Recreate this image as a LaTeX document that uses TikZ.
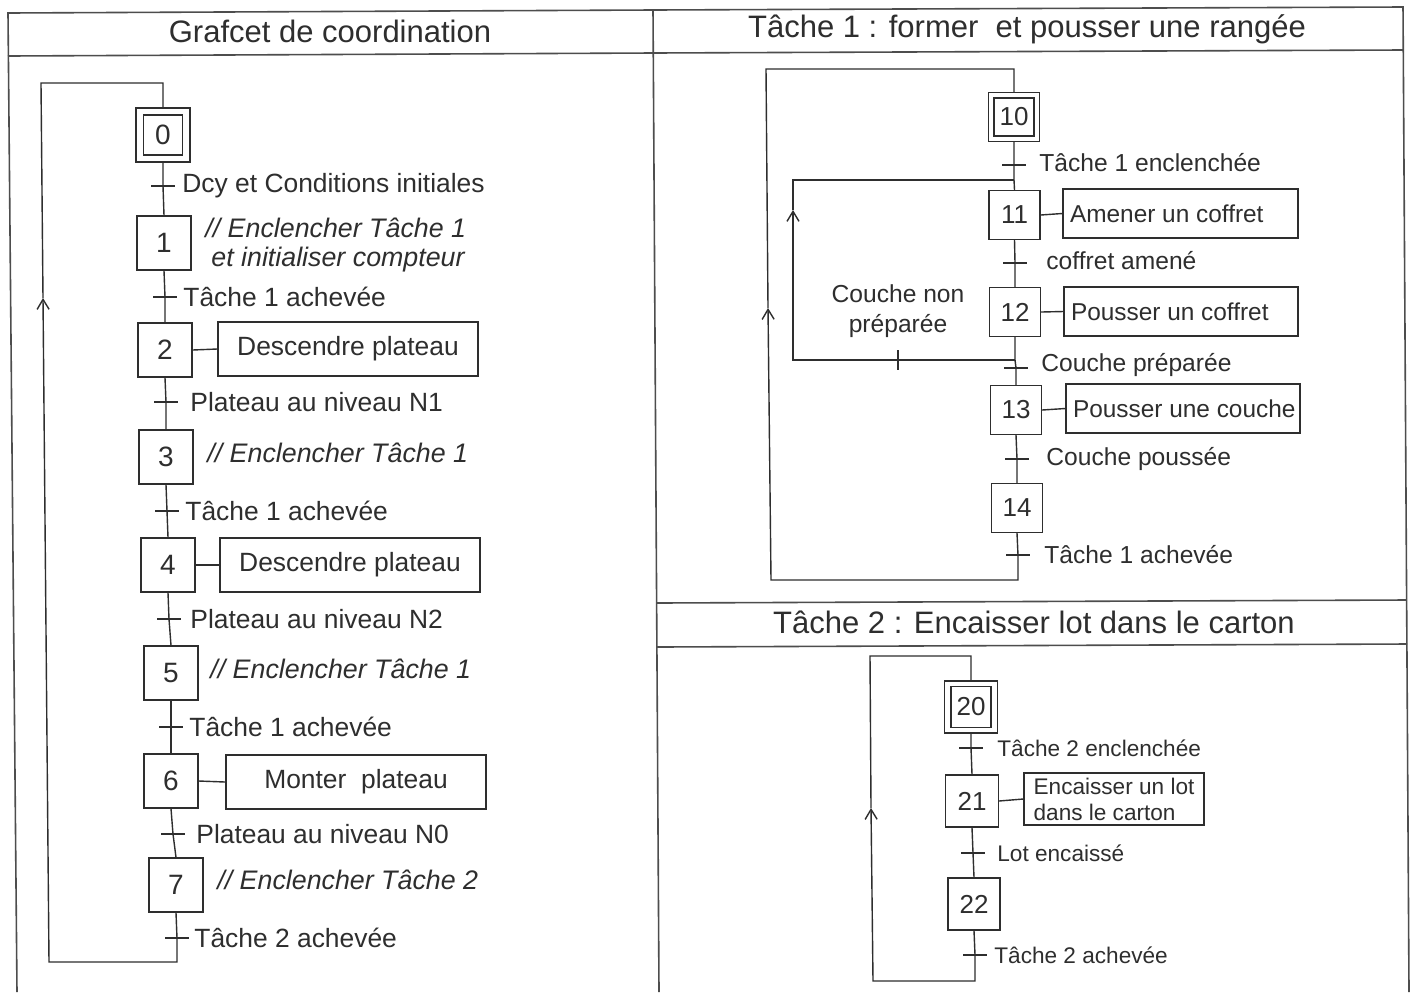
\documentclass[tikz,border=0pt]{standalone}
\usepackage{fontspec}
\setmainfont{Liberation Sans}
\usetikzlibrary{arrows.meta}
\definecolor{ink}{HTML}{2E2E2E}
\newcommand\mytick[1]{\draw[ln] ([xshift=-6pt]#1) -- ([xshift=6pt]#1);}
\begin{document}
\begin{tikzpicture}[x=0.5pt,y=-0.5pt,
  ln/.style={draw=ink, line width=0.7pt},
  frm/.style={draw=ink!85, line width=0.8pt},
  stepbox/.style={draw=ink, line width=0.7pt, inner sep=0pt, minimum width=27pt, minimum height=27pt, text=ink, font=\fontsize{14}{16}\selectfont},
  rstep/.style={stepbox, minimum width=25.5pt, minimum height=24.5pt, font=\fontsize{13}{15}\selectfont},
  actbox/.style={draw=ink, line width=0.7pt, inner sep=0pt, minimum height=27pt, text=ink, font=\fontsize{13.2}{15}\selectfont},
  ractbox/.style={draw=ink, line width=0.7pt, inner xsep=3.5pt, inner ysep=0pt, minimum height=24.5pt, align=left, text=ink, font=\fontsize{12.2}{14}\selectfont},
  tlab/.style={anchor=west, inner sep=0pt, text=ink, font=\fontsize{13.2}{15}\selectfont},
  rlab/.style={tlab, font=\fontsize{12.3}{15}\selectfont},
  qlab/.style={tlab, font=\fontsize{11.3}{13}\selectfont},
  ilab/.style={anchor=west, inner sep=0pt, text=ink, font=\fontsize{13.4}{15}\selectfont\itshape},
  ttl/.style={inner sep=0pt, text=ink, font=\fontsize{15.5}{18}\selectfont},
  arr/.style={ln, -{Straight Barb[length=5pt, width=6pt]}}
]
\useasboundingbox (0,0) rectangle (1417,992);
\fill[white] (0,0) rectangle (1417,992);

% ---------------- frames ----------------
\coordinate (f1) at (8,13);
\coordinate (f2) at (653,10);
\coordinate (f3) at (1403,7);
\coordinate (f4) at (17,992);
\coordinate (f5) at (659,992);
\coordinate (f6) at (1409,992);
\draw[frm] (f4) -- (f1) -- (f2) -- (f3) -- (f6);
\draw[frm] (f2) -- (f5);
\coordinate (h1) at (8,56);
\coordinate (h2) at (653,53);
\coordinate (h3) at (1403,50);
\draw[frm] (h1) -- (h2) -- (h3);
\coordinate (h4) at (656,603);
\coordinate (h5) at (1406,600);
\coordinate (h6) at (657,647);
\coordinate (h7) at (1407,644);
\draw[frm] (h4) -- (h5);
\draw[frm] (h6) -- (h7);

\node[ttl] (T1) at (330,31) {Grafcet de coordination};
\node[ttl] (T2) at (1027,29) {Tâche 1 : former~ et pousser une rangée};
\node[ttl] (T3) at (1034,622) {Tâche 2 : Encaisser lot dans le carton};

% ---------------- Grafcet de coordination ----------------
\node[stepbox] (s0) at (163,135) {};
\node[stepbox, minimum width=19.5pt, minimum height=20pt] (s0i) at (s0) {0};
\node[stepbox] (s1) at (164,243) {1};
\node[stepbox] (s2) at (165,350) {2};
\node[stepbox] (s3) at (166,457) {3};
\node[stepbox] (s4) at (168,565) {4};
\node[stepbox] (s5) at (171,673) {5};
\node[stepbox] (s6) at (171,781) {6};
\node[stepbox] (s7) at (176,885) {7};

\coordinate (t0) at (163,186);
\coordinate (t1) at (165,297);
\coordinate (t2) at (166,402);
\coordinate (t3) at (167,511);
\coordinate (t4) at (169,619);
\coordinate (t5) at (171,727);
\coordinate (t6) at (173,834);
\coordinate (t7) at (177,938);
\coordinate (lb1) at (177,962);
\coordinate (lb2) at (49,962);
\coordinate (la) at (43,298);
\coordinate (lt1) at (41,83);
\coordinate (lt2) at (163,83);

\draw[ln] (s0.south) -- (t0) -- (s1.north);
\draw[ln] (s1.south) -- (t1) -- (s2.north);
\draw[ln] (s2.south) -- (t2) -- (s3.north);
\draw[ln] (s3.south) -- (t3) -- (s4.north);
\draw[ln] (s4.south) -- (t4) -- (s5.north);
\draw[ln] (s5.south) -- (t5) -- (s6.north);
\draw[ln] (s6.south) -- (t6) -- (s7.north);
\draw[ln] (s7.south) -- (t7);
\draw[arr] (t7) -- (lb1) -- (lb2) -- (la);
\draw[ln] (la) -- (lt1) -- (lt2) -- (s0.north);
\mytick{t0}\mytick{t1}\mytick{t2}\mytick{t3}\mytick{t4}\mytick{t5}\mytick{t6}\mytick{t7}

\node[tlab] (l0) at (182,186) {Dcy et Conditions initiales};
\node[tlab] (l1) at (183,297) {Tâche 1 achevée};
\node[tlab] (l2) at (190,402) {Plateau au niveau N1};
\node[tlab] (l3) at (185,511) {Tâche 1 achevée};
\node[tlab] (l4) at (190,619) {Plateau au niveau N2};
\node[tlab] (l5) at (189,727) {Tâche 1 achevée};
\node[tlab] (l6) at (196,834) {Plateau au niveau N0};
\node[tlab] (l7) at (194,938) {Tâche 2 achevée};

\node[ilab] (a1a) at (205,228) {// Enclencher Tâche 1};
\node[ilab] (a1b) at (211,260) {et initialiser compteur};
\node[actbox, minimum width=130pt] (a2) at (348,349) {Descendre plateau};
\node[ilab] (a3) at (207,453) {// Enclencher Tâche 1};
\node[actbox, minimum width=130pt] (a4) at (350,565) {Descendre plateau};
\node[ilab] (a5) at (210,669) {// Enclencher Tâche 1};
\node[actbox, minimum width=130pt] (a6) at (356,782) {Monter~ plateau};
\node[ilab] (a7) at (217,880) {// Enclencher Tâche 2};
\draw[ln] (s2.east) -- (a2.west);
\draw[ln] (s4.east) -- (a4.west);
\draw[ln] (s6.east) -- (a6.west);

% ---------------- Tache 1 ----------------
\node[rstep] (s10) at (1014,117) {};
\node[rstep, minimum width=20pt, minimum height=19pt] (s10i) at (s10) {10};
\node[rstep] (s11) at (1014.5,215) {11};
\node[rstep] (s12) at (1015,312) {12};
\node[rstep] (s13) at (1016,410) {13};
\node[rstep] (s14) at (1017,508) {14};

\coordinate (t10) at (1014,165);
\coordinate (j11) at (1014,180);
\coordinate (t11) at (1015,263);
\coordinate (b12) at (1015,360);
\coordinate (t12) at (1016,368);
\coordinate (t13) at (1017,459);
\coordinate (t14) at (1018,555);
\coordinate (rb1) at (1018,580);
\coordinate (rb2) at (771,580);
\coordinate (ra) at (768,308);
\coordinate (rt1) at (766,69);
\coordinate (rt2) at (1014,69);
\coordinate (ib1) at (898,360);
\coordinate (ib2) at (793,360);
\coordinate (ia) at (793,210);
\coordinate (it1) at (793,180);

\draw[ln] (s10.south) -- (t10) -- (j11) -- (s11.north);
\draw[ln] (s11.south) -- (t11) -- (s12.north);
\draw[ln] (s12.south) -- (b12) -- (t12) -- (s13.north);
\draw[ln] (s13.south) -- (t13) -- (s14.north);
\draw[ln] (s14.south) -- (t14);
\draw[arr] (t14) -- (rb1) -- (rb2) -- (ra);
\draw[ln] (ra) -- (rt1) -- (rt2) -- (s10.north);
\draw[arr] (b12) -- (ib1) -- (ib2) -- (ia);
\draw[ln] (ia) -- (it1) -- (j11);
\draw[ln] ([yshift=5pt]ib1) -- ([yshift=-5pt]ib1);
\mytick{t10}\mytick{t11}\mytick{t12}\mytick{t13}\mytick{t14}

\node[rlab] (l10) at (1039,163) {Tâche 1 enclenchée};
\node[rlab] (l11) at (1046,261) {coffret amené};
\node[rlab] (l12) at (1041,365) {Couche préparée};
\node[rlab] (l13) at (1046,459) {Couche poussée};
\node[rlab] (l14) at (1044,555) {Tâche 1 achevée};
\node[rlab, anchor=center, align=center] (lcn) at (898,311) {Couche non\\préparée};

\node[ractbox] (a11) at (1180.5,213.5) {\makebox[110.5pt][l]{Amener un coffret}};
\node[ractbox] (a12) at (1181,311.5) {\makebox[110pt][l]{Pousser un coffret}};
\node[ractbox] (a13) at (1183,408.5) {\makebox[110pt][l]{Pousser une couche}};
\draw[ln] (s11.east) -- (a11.west);
\draw[ln] (s12.east) -- (a12.west);
\draw[ln] (s13.east) -- (a13.west);

% ---------------- Tache 2 ----------------
\node[stepbox, minimum width=26.25pt, minimum height=26pt, font=\fontsize{13}{15}\selectfont] (s20) at (971,707) {};
\node[stepbox, minimum width=20pt, minimum height=20.5pt, font=\fontsize{13}{15}\selectfont] (s20i) at (s20) {20};
\node[stepbox, minimum width=26.25pt, minimum height=26pt, font=\fontsize{13}{15}\selectfont] (s21) at (972,801) {21};
\node[stepbox, minimum width=26pt, minimum height=26pt, font=\fontsize{13}{15}\selectfont] (s22) at (974,904) {22};

\coordinate (t20) at (971,748);
\coordinate (t21) at (973,853);
\coordinate (t22) at (975,955);
\coordinate (qb1) at (975,981);
\coordinate (qb2) at (873,981);
\coordinate (qa) at (871,808);
\coordinate (qt1) at (870,656);
\coordinate (qt2) at (971,656);

\draw[ln] (s20.south) -- (t20) -- (s21.north);
\draw[ln] (s21.south) -- (t21) -- (s22.north);
\draw[ln] (s22.south) -- (t22);
\draw[arr] (t22) -- (qb1) -- (qb2) -- (qa);
\draw[ln] (qa) -- (qt1) -- (qt2) -- (s20.north);
\mytick{t20}\mytick{t21}\mytick{t22}

\node[qlab] (l20) at (997,748) {Tâche 2 enclenchée};
\node[qlab] (l21) at (997,853) {Lot encaissé};
\node[qlab] (l22) at (994,955) {Tâche 2 achevée};

\node[ractbox, minimum width=90pt, minimum height=26pt, font=\fontsize{11.3}{13}\selectfont] (a21) at (1114,799) {Encaisser un lot\\dans le carton};
\draw[ln] (s21.east) -- (a21.west);
\end{tikzpicture}
\end{document}
